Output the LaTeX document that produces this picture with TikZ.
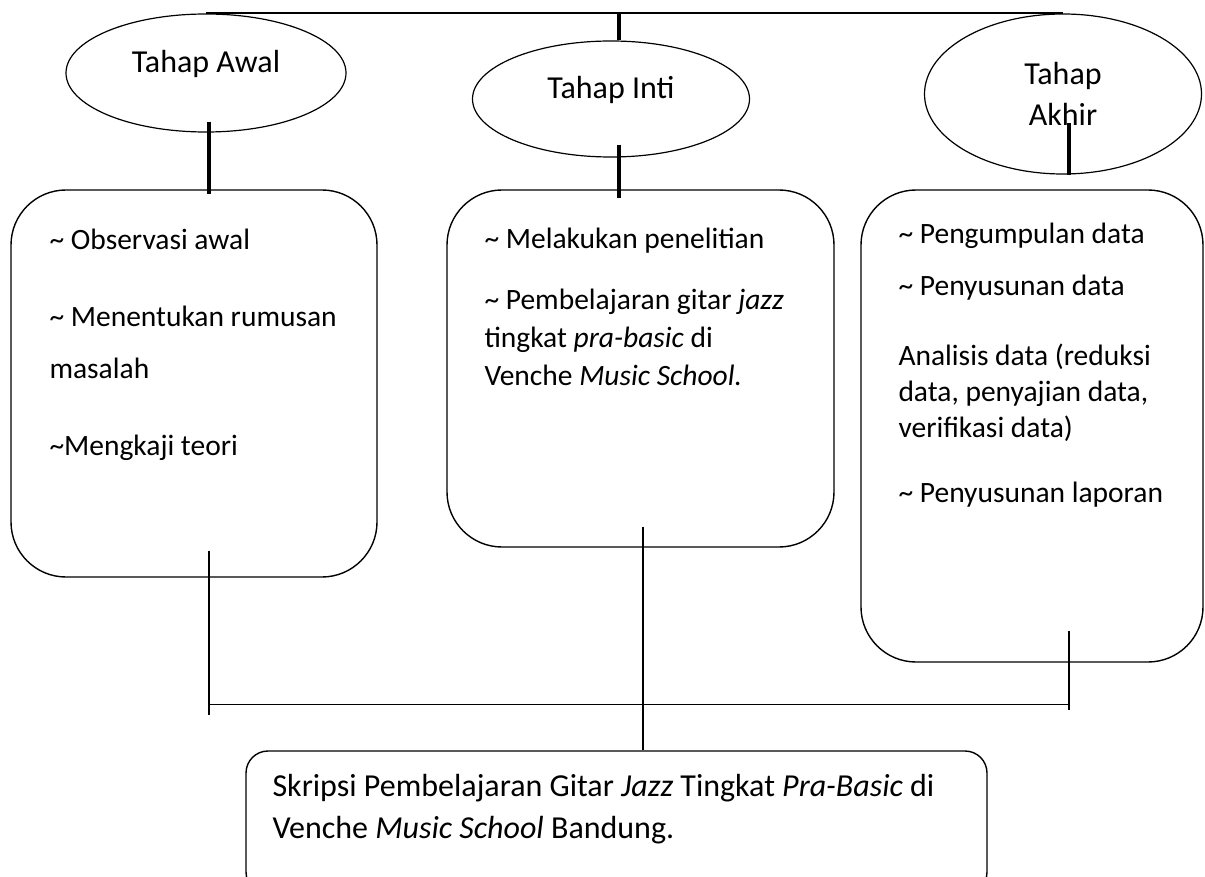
\documentclass[tikz,border=0pt]{standalone}
\usepackage{fontspec}
\setmainfont{Carlito}
\usetikzlibrary{shapes.geometric,positioning}

\begin{document}
\begin{tikzpicture}[x=1pt,y=-1pt,
    tahap/.style={ellipse, draw, line width=1.2pt, inner sep=0pt, align=center, font=\fontsize{32}{41}\selectfont},
    kotak/.style={draw, line width=1.4pt, rounded corners=55pt, inner sep=0pt},
    isi/.style={anchor=base west, inner sep=0pt, align=left},
    tebal/.style={line width=3.5pt},
    tipis/.style={line width=1.4pt}]
  \useasboundingbox (0,0) rectangle (1205,877);
  % tahapan
  \node[tahap, minimum width=280pt, minimum height=118pt] (awal)  at (206,73)  {\raisebox{0pt}[0pt][0pt]{Tahap Awal}};
  \node[tahap, minimum width=277pt, minimum height=116pt] (inti)  at (611,99)  {\raisebox{0pt}[0pt][0pt]{Tahap Inti}};
  \node[tahap, minimum width=277pt, minimum height=160pt] (akhir) at (1063,94) {Tahap\\Akhir};
  % kotak kegiatan
  \node[kotak, minimum width=366pt, minimum height=387pt] (bawal)  at (194,383.5)  {};
  \node[kotak, minimum width=387pt, minimum height=357pt] (binti)  at (640.5,368.5) {};
  \node[kotak, minimum width=342pt, minimum height=472pt] (bakhir) at (1032,426)   {};
  \node[kotak, rounded corners=22pt, minimum width=741pt, minimum height=143pt] (skripsi) at (616.5,822.5) {};
  % isi kotak (base = baris terakhir)
  \node[isi, font=\fontsize{29.5}{52}\selectfont] (tawal) at ([shift={(39,266)}]bawal.north west)
    {\textasciitilde{} Observasi awal\\[25pt]
     \textasciitilde{} Menentukan rumusan\\
     masalah\\[25pt]
     \textasciitilde Mengkaji teori};
  \node[isi, font=\fontsize{29.5}{38}\selectfont] (tinti) at ([shift={(38,196)}]binti.north west)
    {\textasciitilde{} Melakukan penelitian\\[23pt]
     \textasciitilde{} Pembelajaran gitar \textit{jazz}\\
     tingkat \textit{pra-basic} di\\
     Venche \textit{Music School.}};
  \node[isi, font=\fontsize{29.5}{36}\selectfont] (takhir) at ([shift={(38,313)}]bakhir.north west)
    {\textasciitilde{} Pengumpulan data\\[16pt]
     \textasciitilde{} Penyusunan data\\[34pt]
     Analisis data (reduksi\\
     data, penyajian data,\\
     verifikasi data)\\[29pt]
     \textasciitilde{} Penyusunan laporan};
  \node[isi, font=\fontsize{32}{42}\selectfont] (tskripsi) at ([shift={(27,88)}]skripsi.north west)
    {Skripsi Pembelajaran Gitar \textit{Jazz} Tingkat \textit{Pra-Basic} di\\
     Venche \textit{Music School} Bandung.};
  % garis atas
  \draw[line width=2pt] (awal.north) -- (akhir.north);
  \draw[tebal] ([xshift=8pt]inti.north) -- ++(0,-27);
  \draw[tebal] ([shift={(3,-11)}]awal.south) -- ++(0,72);
  \draw[tebal] ([shift={(8,-13)}]inti.south) -- ++(0,53);
  \draw[tebal] ([xshift=6pt]akhir.south) -- ++(0,-52);
  % garis bawah
  \coordinate (jkiri)   at ([shift={(15,-27)}]bawal.south);
  \coordinate (jtengah) at ([shift={(2.5,-21)}]binti.south);
  \coordinate (jkanan)  at ([shift={(37,-32)}]bakhir.south);
  \draw[tipis] (jkiri) -- ++(0,164);
  \draw[tipis] (jkanan) -- ++(0,79);
  \draw[tipis] ([shift={(0,154)}]jkiri) -- ([shift={(0,74)}]jkanan);
  \draw[tipis] (jtengah) -- (jtengah |- skripsi.north);
\end{tikzpicture}
\end{document}
